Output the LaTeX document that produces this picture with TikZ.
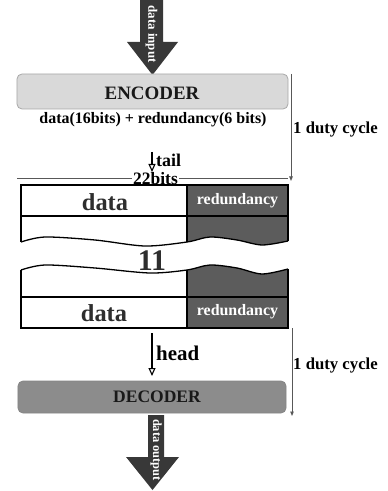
\documentclass[tikz,border=0pt]{standalone}
\usepackage{fontspec}
\setmainfont{Liberation Serif}
\usetikzlibrary{arrows.meta}
\definecolor{fatarrow}{HTML}{383838}
\definecolor{encfill}{HTML}{D9D9D9}
\definecolor{encdraw}{HTML}{A8A8A8}
\definecolor{decfill}{HTML}{8C8C8C}
\definecolor{decdraw}{HTML}{858585}
\definecolor{celldark}{HTML}{5C5C5C}
\definecolor{txtdark}{HTML}{2E2E2E}
\definecolor{thingray}{HTML}{585858}
\begin{document}
\begin{tikzpicture}[x=1bp,y=-1bp,
  fs/.style={font=\bfseries\fontsize{#1}{#1}\selectfont},
  lbl/.style={inner sep=0pt},
  encbox/.style={draw=encdraw,fill=encfill,rounded corners=5bp,line width=0.8bp},
  decbox/.style={draw=decdraw,fill=decfill,rounded corners=5bp,line width=0.8bp},
  fatfill/.style={fill=fatarrow},
  cellline/.style={draw=black,line width=1.3bp},
  dutyarrow/.style={draw=thingray,line width=0.9bp,-{Triangle[length=4.5bp,width=3.5bp]}},
  flowarrow/.style={draw=black,line width=1.1bp,-{Triangle[open,length=8bp,width=7bp]}},
  thinline/.style={draw=thingray,line width=0.8bp}]
\useasboundingbox (0,0) rectangle (387,491);

% top fat arrow
\fill[fatfill] (140,0) -- (163,0) -- (163,42) -- (178,42) -- (152.5,75) -- (127,42) -- (140,42) -- cycle;
\node[lbl,rotate=-90,text=white,fs=13] (din) at (151.5,34) {data input};

% encoder
\node[encbox,minimum width=271bp,minimum height=35bp] (enc) at (152.5,91.5) {};
\node[lbl,fs=19,text=black!90] (enctext) at (152,93) {ENCODER};
\node[lbl,fs=16] (encout) at (153,120) {data(16bits) + redundancy(6 bits)};

% tail arrow
\coordinate (tailstart) at (152,152);
\coordinate (tailend) at (152,172);
\draw[flowarrow] (tailstart) -- (tailend);
\node[lbl,fs=18,anchor=west] (tail) at (156,160) {tail};

% 22bits line
\node[inner sep=1.5bp,fs=17.5] (bits) at (155.5,178.5) {22bits};
\coordinate (bitsL) at (17,178);
\coordinate (bitsR) at (288,178);
\draw[thinline] (bitsL) -- (bits.west |- bitsL);
\draw[thinline] (bits.east |- bitsR) -- (bitsR);

% duty cycle 1
\coordinate (d1a) at (291,74);
\coordinate (d1b) at (291,181);
\draw[dutyarrow] (d1a) -- (d1b);
\node[lbl,fs=16.8,anchor=west] (duty1) at (293,130) {1 duty cycle};

% table row 1
\fill[white] (21,185) rectangle (187,216);
\fill[celldark] (187,185) rectangle (288,216);
% row 2 (upper wave)
\fill[white] (288,216) -- (21,216) -- plot[smooth] coordinates {(21,242) (45,237) (95,240) (145,246) (187,242) (210,237) (237,240) (262,245) (288,241)} -- cycle;
\begin{scope}
\clip (187,180) rectangle (300,260);
\fill[celldark] (288,216) -- (21,216) -- plot[smooth] coordinates {(21,242) (45,237) (95,240) (145,246) (187,242) (210,237) (237,240) (262,245) (288,241)} -- cycle;
\end{scope}
% row 3 (lower wave)
\fill[white] (288,297) -- (21,297) -- plot[smooth] coordinates {(21,270) (45,265) (95,268) (150,273) (187,270) (210,265) (237,268) (262,274) (288,269)} -- cycle;
\begin{scope}
\clip (187,255) rectangle (300,300);
\fill[celldark] (288,297) -- (21,297) -- plot[smooth] coordinates {(21,270) (45,265) (95,268) (150,273) (187,270) (210,265) (237,268) (262,274) (288,269)} -- cycle;
\end{scope}
% row 4
\fill[white] (21,297) rectangle (187,328);
\fill[celldark] (187,297) rectangle (288,328);

% outlines
\draw[cellline] (21,242) -- (21,185) -- (288,185) -- (288,241);
\draw[cellline] (21,216) -- (288,216);
\draw[cellline] (187,185) -- (187,242);
\draw[cellline] plot[smooth] coordinates {(21,242) (45,237) (95,240) (145,246) (187,242) (210,237) (237,240) (262,245) (288,241)};
\draw[cellline] plot[smooth] coordinates {(21,270) (45,265) (95,268) (150,273) (187,270) (210,265) (237,268) (262,274) (288,269)};
\draw[cellline] (21,270) -- (21,328) -- (288,328) -- (288,269);
\draw[cellline] (21,297) -- (288,297);
\draw[cellline] (187,270) -- (187,328);

% table texts
\node[lbl,fs=24.5,text=txtdark] (data1) at (105,202) {data};
\node[lbl,fs=16,text=white] (red1) at (237.5,201) {redundancy};
\node[lbl,fs=30,text=txtdark] (eleven) at (152,261) {11};
\node[lbl,fs=24.5,text=txtdark] (data2) at (104,313) {data};
\node[lbl,fs=16,text=white] (red2) at (237.5,312) {redundancy};

% head arrow
\coordinate (headstart) at (152,333);
\coordinate (headend) at (152,376);
\draw[flowarrow] (headstart) -- (headend);
\node[lbl,fs=21,anchor=west] (head) at (156,353) {head};

% duty cycle 2
\coordinate (d2a) at (292,328);
\coordinate (d2b) at (292,416);
\draw[dutyarrow] (d2a) -- (d2b);
\node[lbl,fs=16.8,anchor=west] (duty2) at (293,365) {1 duty cycle};

% decoder
\node[decbox,minimum width=268bp,minimum height=32bp] (dec) at (152,397) {};
\node[lbl,fs=17.6,text=black!90] (dectext) at (157,397) {DECODER};

% bottom fat arrow
\fill[fatfill] (148,415) -- (164,415) -- (164,457) -- (179,457) -- (152.5,490) -- (126,457) -- (148,457) -- cycle;
\node[lbl,rotate=-90,text=white,fs=12.5] (dout) at (156,450) {data output};
\end{tikzpicture}
\end{document}
